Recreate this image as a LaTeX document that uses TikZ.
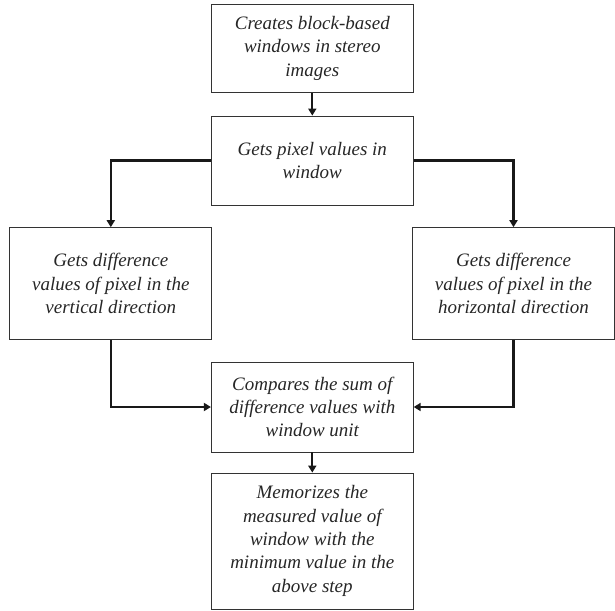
\documentclass[tikz,border=0pt]{standalone}
\usepackage{fontspec}
\setmainfont{Liberation Serif}
\usetikzlibrary{arrows.meta}

\definecolor{Edge}{HTML}{333333}
\tikzstyle{Step} = [draw=Edge,
                    rectangle,
                    line width=0.8pt,
                    align=center,
                    minimum width=202pt,
                    inner sep=0pt,
                    text=black!85,
                    font=\fontsize{19}{23.3}\selectfont\itshape]
\tikzstyle{Flow} = [-{Triangle[length=7pt,width=8pt]}, line width=2.2pt, black!90]

\begin{document}
\begin{tikzpicture}[x=1pt, y=-1pt]

    \useasboundingbox (0, 0) rectangle (615, 610);

    % Middle column
    \node (create) at (312.3, 48.3) [Step, minimum height=88.7pt]{Creates block-based\\ windows in stereo\\ images};
    \node (pixel) at (312.3, 160.5) [Step, minimum height=89pt]{Gets pixel values in\\ window};

    % Side boxes
    \node (vert) at (110.8, 283.6) [Step, minimum height=112pt]{Gets difference\\ values of pixel in the\\ vertical direction};
    \node (horiz) at (513.5, 283.6) [Step, minimum height=112pt]{Gets difference\\ values of pixel in the\\ horizontal direction};

    % Lower boxes
    \node (compare) at (312.3, 407) [Step, minimum height=90pt]{Compares the sum of\\ difference values with\\ window unit};
    \node (memo) at (312.3, 541) [Step, minimum height=136pt]{Memorizes the\\ measured value of\\ window with the\\ minimum value in the\\ above step};

    % Lines
    \draw [Flow] (create) -- (pixel);
    \draw [Flow] (pixel.west) -| (vert.north);
    \draw [Flow] (pixel.east) -| (horiz.north);

    \draw [Flow] (vert.south) |- (compare.west);
    \draw [Flow] (horiz.south) |- (compare.east);
    \draw [Flow] (compare) -- (memo);

\end{tikzpicture}
\end{document}
